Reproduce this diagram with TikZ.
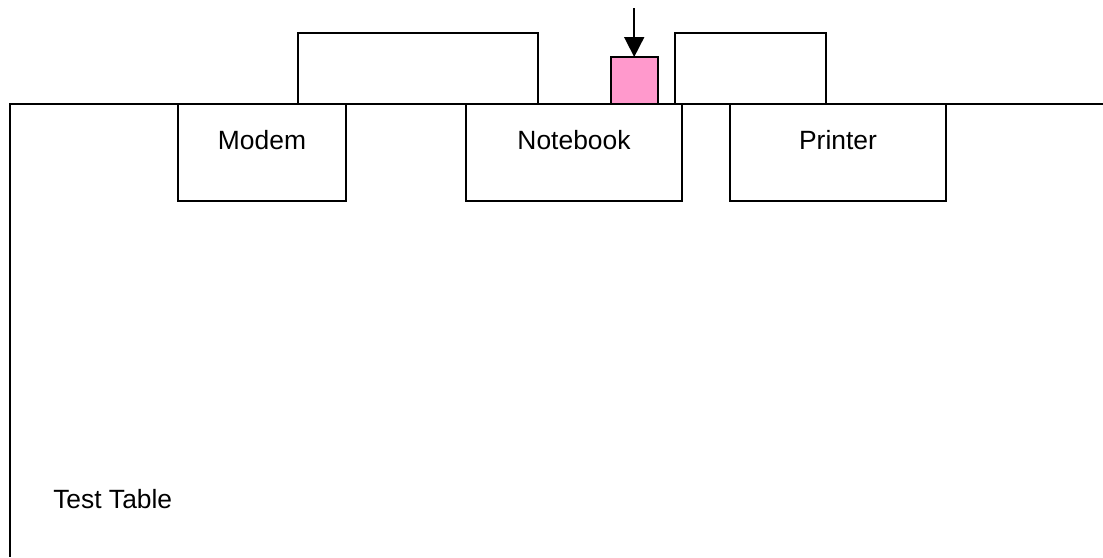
\documentclass[tikz,border=0pt]{standalone}
\usepackage{fontspec}
\setmainfont{Liberation Sans}
\usetikzlibrary{arrows.meta}
\definecolor{pinkfill}{HTML}{FF99CC}
\tikzset{
  stroke/.style={draw=black,line width=1.3pt},
  boxnode/.style={stroke,rectangle,anchor=north west,inner sep=0pt,outer sep=0pt},
  labeltext/.style={anchor=base,inner sep=0pt,font=\fontsize{19.8pt}{23pt}\selectfont,text=black},
  pointer/.style={stroke,-{Triangle[length=15pt,width=15pt]}}
}
\begin{document}
\begin{tikzpicture}[x=0.75pt,y=-0.75pt]
\path[fill=white,use as bounding box] (0,0) rectangle (1103,557);
% table outline runs off the right and bottom edges
\coordinate (tableright) at (1103,104);
\coordinate (tablecorner) at (10,104);
\coordinate (tablebottom) at (10,557);
\draw[stroke] (tableright) -- (tablecorner) -- (tablebottom);
% boxes on top of the table
\node[boxnode,minimum width=180pt,minimum height=53.25pt] (wide) at (298,33) {};
\node[boxnode,minimum width=113.25pt,minimum height=53.25pt] (narrow) at (675,33) {};
\node[boxnode,fill=pinkfill,minimum width=35.25pt,minimum height=35.25pt] (pink) at (611,57) {};
% boxes below the table edge
\node[boxnode,minimum width=126pt,minimum height=72.75pt] (modem) at (178,104) {};
\node[boxnode,minimum width=162pt,minimum height=72.75pt] (notebook) at (466,104) {};
\node[boxnode,minimum width=162pt,minimum height=72.75pt] (printer) at (730,104) {};
\node[labeltext] (modemtext) at (262,149) {Modem};
\node[labeltext] (notebooktext) at (574,149) {Notebook};
\node[labeltext] (printertext) at (838,149) {Printer};
\node[labeltext,anchor=base west] (tabletext) at (53,508) {Test Table};
\coordinate (arrowstart) at (634.2,8);
\draw[pointer] (arrowstart) -- (arrowstart |- pink.north);
\end{tikzpicture}
\end{document}
